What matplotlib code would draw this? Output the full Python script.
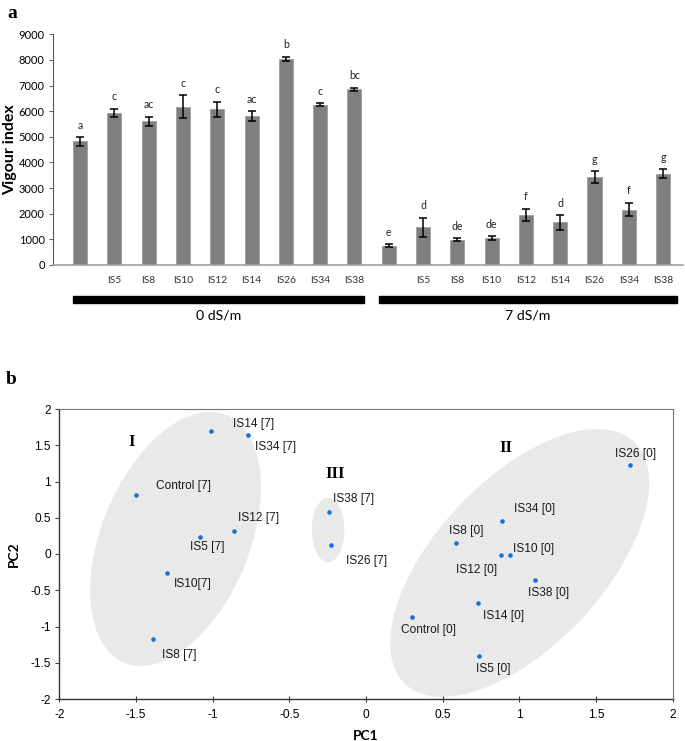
import numpy as np
import matplotlib.pyplot as plt
from matplotlib.patches import Ellipse, Rectangle
from matplotlib.transforms import Affine2D, blended_transform_factory
from matplotlib.ticker import FuncFormatter

plt.rcParams['axes.unicode_minus'] = False

# ---- panel a data: vigour index at 0 and 7 dS/m
strains = ['Control', 'IS5', 'IS8', 'IS10', 'IS12', 'IS14', 'IS26', 'IS34', 'IS38']
vig_0 = [4820, 5930, 5600, 6170, 6080, 5800, 8030, 6250, 6850]
err_0 = [160, 175, 180, 450, 290, 190, 90, 55, 60]
let_0 = ['a', 'c', 'ac', 'c', 'c', 'ac', 'b', 'c', 'bc']
vig_7 = [750, 1470, 990, 1060, 1950, 1660, 3420, 2160, 3560]
err_7 = [60, 370, 60, 70, 250, 290, 235, 260, 175]
let_7 = ['e', 'd', 'de', 'de', 'f', 'd', 'g', 'f', 'g']
groups = ['0 dS/m', '7 dS/m']

# ---- panel b data: PCA scores
pca_names = ['Control [7]', 'IS5 [7]', 'IS8 [7]', 'IS10[7]', 'IS12 [7]', 'IS14 [7]',
             'IS26 [7]', 'IS34 [7]', 'IS38 [7]',
             'Control [0]', 'IS5 [0]', 'IS8 [0]', 'IS10 [0]', 'IS12 [0]', 'IS14 [0]',
             'IS26 [0]', 'IS34 [0]', 'IS38 [0]']
pc1 = [-1.50, -1.08, -1.39, -1.30, -0.86, -1.01, -0.23, -0.77, -0.24,
       0.30, 0.74, 0.59, 0.94, 0.88, 0.73, 1.72, 0.89, 1.10]
pc2 = [0.82, 0.23, -1.17, -0.26, 0.32, 1.70, 0.12, 1.645, 0.575,
       -0.87, -1.41, 0.15, -0.02, -0.01, -0.68, 1.23, 0.45, -0.355]
# label offsets in pixels (left edge of text, vertical centre)
lab_off = [(20, 9), (-10, -10), (9, -16), (7, -11), (4, 13), (22, 7),
           (15, -16), (7, -12), (4, 13),
           (-11, -13), (-3, -13), (-7, 12), (3, 6), (-45, -15), (5, -13),
           (-15, 11), (12, 12), (-7, -13)]

fig = plt.figure(figsize=(6.85, 7.41), dpi=100)
W, H = 685, 741

sans = ['Lato', 'DejaVu Sans']
arial = ['Liberation Sans', 'DejaVu Sans']
serif = ['Liberation Serif', 'DejaVu Serif']

# ================= panel a
ax1 = fig.add_axes([53 / W, 1 - 265 / H, 630 / W, 230.7 / H])
vals = vig_0 + vig_7
errs = err_0 + err_7
lets = let_0 + let_7
x = np.arange(len(vals))
ax1.bar(x, vals, width=0.41, color='#7f7f7f', edgecolor='#a0a0a0', linewidth=0.6,
        yerr=errs, capsize=2.6,
        error_kw=dict(elinewidth=1.1, ecolor='black', capthick=1.1))
for xi, v, e, l in zip(x, vals, errs, lets):
    ax1.annotate(l, (xi, v + e), xytext=(0, 12), textcoords='offset pixels',
                 ha='center', va='center', fontsize=7.6, family=sans, color='#222222')

ax1.set_xlim(-0.79, 17.58)
ax1.set_ylim(0, 9000)
ax1.set_yticks(np.arange(0, 9001, 1000))
ax1.set_xticks(x)
ax1.set_xticklabels(['' if s == 'Control' else s for s in strains] * 2,
                    fontsize=7.4, family=sans, color='#333333')
ax1.tick_params(axis='x', length=0, pad=8)
ax1.tick_params(axis='y', length=3, width=0.8, color='#666666', labelsize=8, pad=3)
for t in ax1.get_yticklabels():
    t.set_family(sans)
ax1.spines['top'].set_visible(False)
ax1.spines['right'].set_visible(False)
ax1.spines['left'].set_color('#555555')
ax1.spines['left'].set_linewidth(0.8)
ax1.spines['bottom'].set_color('#a0a0a0')
ax1.spines['bottom'].set_linewidth(1.2)
ax1.set_ylabel('Vigour index', fontsize=11.5, fontweight='bold', family=sans)
ax1.yaxis.set_label_coords(-0.057, 0.5)

# treatment bars below the axis
tr = blended_transform_factory(ax1.transData, ax1.transAxes)
spans = [(-0.2, 8.28), (8.72, 17.4)]
for (x0, x1), g in zip(spans, groups):
    ax1.add_patch(Rectangle((x0, -0.166), x1 - x0, 0.033, transform=tr,
                            color='black', clip_on=False))
    ax1.text((x0 + x1) / 2, -0.217, g, transform=tr, ha='center', va='center',
             fontsize=10.2, family=sans)

fig.text(12 / W, 1 - 14 / H, 'a', fontsize=14, fontweight='bold', family=serif,
         ha='center', va='center')
fig.text(11 / W, 1 - 380 / H, 'b', fontsize=14, fontweight='bold', family=serif,
         ha='center', va='center')

# ================= panel b
ax2 = fig.add_axes([59.3 / W, 1 - 699 / H, 613.4 / W, 290 / H])
ax2.set_xlim(-2, 2)
ax2.set_ylim(-2, 2)
ticks = np.arange(-2, 2.01, 0.5)
ax2.set_xticks(ticks)
ax2.set_yticks(ticks)
fmt = FuncFormatter(lambda v, p: '%g' % v)
ax2.xaxis.set_major_formatter(fmt)
ax2.yaxis.set_major_formatter(fmt)
ax2.tick_params(axis='both', labelsize=8.6, width=0.8, color='#444444', length=4)
ax2.tick_params(axis='x', direction='inout', pad=5)
ax2.tick_params(axis='y', direction='out', length=3, pad=3)
for t in ax2.get_xticklabels() + ax2.get_yticklabels():
    t.set_family(arial)
for s in ['left', 'bottom']:
    ax2.spines[s].set_color('#333333')
    ax2.spines[s].set_linewidth(1.0)
for s in ['top', 'right']:
    ax2.spines[s].set_color('#777777')
    ax2.spines[s].set_linewidth(0.8)
ax2.set_xlabel('PC1', fontsize=10, fontweight='bold', family=sans, labelpad=7)
ax2.set_ylabel('PC2', fontsize=10, fontweight='bold', family=sans)
ax2.yaxis.set_label_coords(-0.064, 0.5)

# cluster ellipses, sized in pixels then mapped into data units
sx = (613.4 / 4)
sy = (290 / 4)
clusters = [((-1.242, 0.207), 134, 74, 67.6),
            ((1.002, -0.124), 166.6, 83.4, 46.6),
            ((-0.247, 0.331), 32.3, 16.3, 90)]
for (cx, cy), a, b, ang in clusters:
    el = Ellipse((0, 0), 2 * a, 2 * b, angle=ang, facecolor='#e9e9e9',
                 edgecolor='none', zorder=0)
    el.set_transform(Affine2D().scale(1 / sx, 1 / sy).translate(cx, cy) + ax2.transData)
    ax2.add_patch(el)

ax2.plot(pc1, pc2, 'o', ms=3.3, color='#1a6fd4', mec='none', zorder=3)
for n, px, py, (dx, dy) in zip(pca_names, pc1, pc2, lab_off):
    ax2.annotate(n, (px, py), xytext=(dx, dy), textcoords='offset pixels',
                 ha='left', va='center', fontsize=8.6, family=arial, color='#1a1a1a')

for txt, tx, ty in [('I', -1.53, 1.54), ('II', 0.914, 1.46), ('III', -0.20, 1.10)]:
    ax2.text(tx, ty, txt, fontsize=12, fontweight='bold', family=serif,
             ha='center', va='center')

fig.savefig('out.png', dpi=100)
